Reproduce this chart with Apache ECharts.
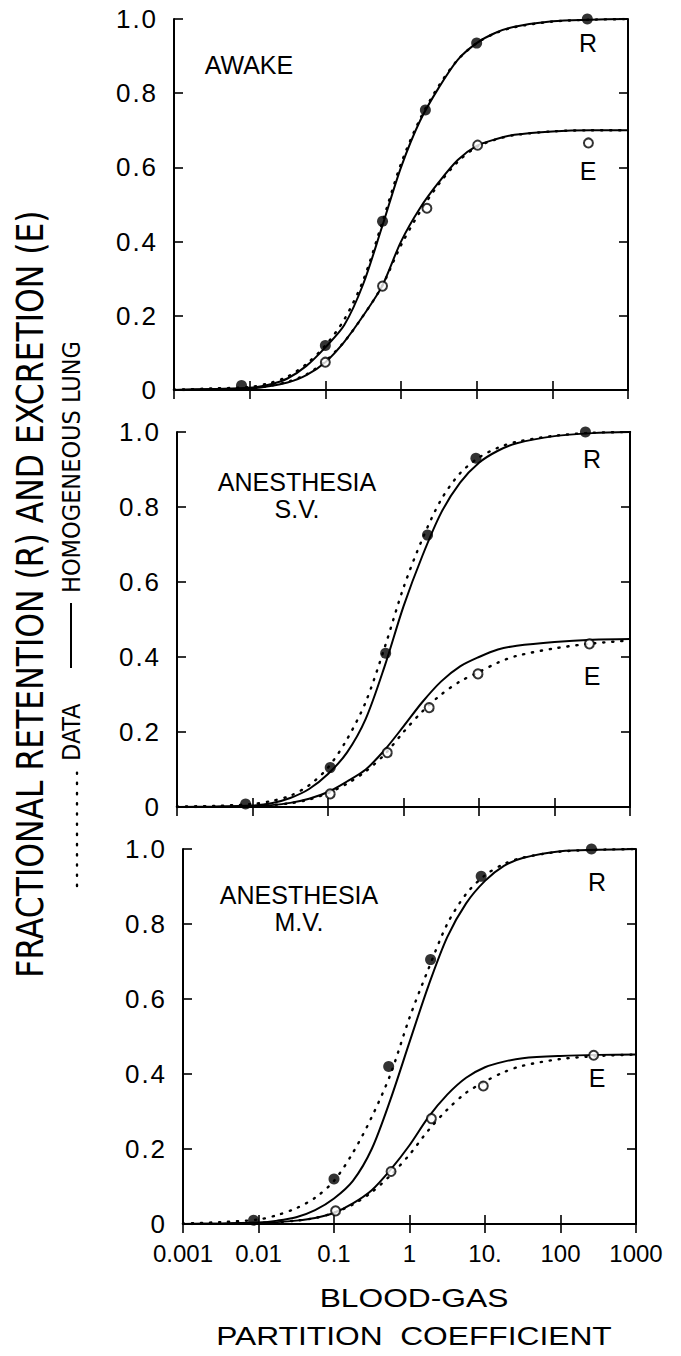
<!DOCTYPE html>
<html>
<head>
<meta charset="utf-8">
<script src="https://cdn.jsdelivr.net/npm/echarts@6/dist/echarts.min.js"></script>
<style>
  html, body { margin: 0; padding: 0; background: #fff; }
  #chart { width: 681px; height: 1356px; }
</style>
</head>
<body>
<div id="chart"></div>
<script>
// tick labels
var xTickLabels = ['0.001', '0.01', '0.1', '1', '10.', '100', '1000'];
var yTickLabels = ['0', '0.2', '0.4', '0.6', '0.8', '1.0'];
var panelNames = ['AWAKE', 'ANESTHESIA\nS.V.', 'ANESTHESIA\nM.V.'];

// partition coefficients where the curves were read (quarter decades in the middle)
var curveX = [0.001, 0.00316, 0.01, 0.0178, 0.0316, 0.0562, 0.1, 0.178, 0.316, 0.562,
              1, 1.78, 3.16, 5.62, 10, 17.8, 31.6, 100, 316, 1000];

// awake
var awakeRLine = [0, 0.003, 0.006, 0.014, 0.031, 0.065, 0.115, 0.175, 0.285, 0.44, 0.60, 0.725, 0.815, 0.89, 0.935, 0.963, 0.979, 0.994, 0.998, 1.0];
var awakeRDots = [0.001, 0.004, 0.008, 0.018, 0.036, 0.07, 0.12, 0.19, 0.295, 0.45, 0.61, 0.73, 0.82, 0.89, 0.935, 0.962, 0.978, 0.993, 0.998, 1.0];
var awakeELine = [0, 0.001, 0.004, 0.01, 0.02, 0.04, 0.075, 0.13, 0.2, 0.28, 0.40, 0.49, 0.56, 0.62, 0.658, 0.676, 0.688, 0.697, 0.70, 0.70];
var awakeEDots = [0, 0.001, 0.004, 0.011, 0.022, 0.042, 0.078, 0.13, 0.2, 0.28, 0.39, 0.48, 0.555, 0.615, 0.655, 0.675, 0.687, 0.697, 0.70, 0.70];
var awakeRPtX = [0.0078, 0.10, 0.57, 2.1, 10, 290];
var awakeRPtY = [0.012, 0.12, 0.455, 0.755, 0.935, 1.0];
var awakeEPtX = [0.10, 0.57, 2.2, 10.3, 300];
var awakeEPtY = [0.075, 0.28, 0.49, 0.66, 0.666];

// anesthesia, spontaneous ventilation
var svRLine = [0, 0.001, 0.004, 0.01, 0.024, 0.048, 0.088, 0.145, 0.235, 0.375, 0.535, 0.67, 0.785, 0.865, 0.918, 0.95, 0.97, 0.989, 0.997, 1.0];
var svRDots = [0.001, 0.003, 0.008, 0.016, 0.03, 0.058, 0.105, 0.18, 0.28, 0.425, 0.585, 0.715, 0.82, 0.89, 0.932, 0.958, 0.974, 0.99, 0.998, 1.0];
var svELine = [0, 0.0005, 0.002, 0.005, 0.011, 0.022, 0.04, 0.068, 0.1, 0.152, 0.215, 0.28, 0.335, 0.375, 0.4, 0.42, 0.43, 0.44, 0.446, 0.448];
var svEDots = [0, 0.0005, 0.002, 0.005, 0.01, 0.02, 0.037, 0.062, 0.095, 0.14, 0.2, 0.255, 0.3, 0.335, 0.36, 0.385, 0.403, 0.423, 0.436, 0.444];
var svRPtX = [0.0081, 0.107, 0.58, 2.08, 9.1, 257];
var svRPtY = [0.008, 0.105, 0.41, 0.725, 0.93, 1.0];
var svEPtX = [0.107, 0.61, 2.19, 9.7, 290];
var svEPtY = [0.035, 0.145, 0.265, 0.355, 0.435];

// anesthesia, mechanical ventilation
var mvRLine = [0, 0.001, 0.004, 0.009, 0.018, 0.037, 0.068, 0.115, 0.2, 0.333, 0.485, 0.635, 0.765, 0.855, 0.915, 0.955, 0.976, 0.994, 0.998, 1.0];
var mvRDots = [0.001, 0.005, 0.012, 0.024, 0.042, 0.07, 0.115, 0.19, 0.285, 0.40, 0.55, 0.68, 0.80, 0.88, 0.93, 0.96, 0.977, 0.993, 0.998, 1.0];
var mvELine = [0, 0.001, 0.003, 0.005, 0.009, 0.016, 0.03, 0.055, 0.09, 0.145, 0.21, 0.285, 0.345, 0.39, 0.418, 0.433, 0.442, 0.448, 0.451, 0.452];
var mvEDots = [0, 0.001, 0.003, 0.005, 0.009, 0.016, 0.03, 0.052, 0.085, 0.13, 0.185, 0.25, 0.305, 0.35, 0.38, 0.405, 0.422, 0.44, 0.448, 0.452];
var mvRPtX = [0.0086, 0.1, 0.53, 1.9, 8.9, 257];
var mvRPtY = [0.01, 0.12, 0.42, 0.705, 0.927, 1.0];
var mvEPtX = [0.105, 0.57, 1.95, 9.5, 275];
var mvEPtY = [0.035, 0.14, 0.281, 0.368, 0.45];

var FONT = '"Liberation Sans", Arial, sans-serif';
var NARROW = '"Liberation Sans Narrow", "DejaVu Sans Condensed", sans-serif';

var grids = [
  { left: 174, top: 19, width: 454, height: 371 },
  { left: 177, top: 432, width: 453, height: 375 },
  { left: 183, top: 849, width: 453, height: 375 }
];

function pairs(xs, ys) {
  var out = [];
  for (var i = 0; i < xs.length; i++) out.push([xs[i], ys[i]]);
  return out;
}

// y labels: the lettering leaves a wide gap round the decimal point
function yLabel(v) {
  var s = yTickLabels[Math.round(v / 0.2)];
  var parts = s.split('.');
  if (parts.length < 2) return '{d|' + s + '}';
  return '{d|' + parts[0] + '}{p|.}{d|' + parts[1] + '}';
}

var xAxes = [], yAxes = [], series = [];

for (var g = 0; g < 3; g++) {
  ['bottom', 'top'].forEach(function(pos) {
    xAxes.push({
      type: 'log', logBase: 10, gridIndex: g, position: pos,
      min: 0.001, max: 1000, splitNumber: 6,
      axisLine: { show: true, lineStyle: { color: '#000', width: 2 } },
      axisTick: { show: true, inside: true, length: 9, lineStyle: { color: '#000', width: 1.6 } },
      minorTick: { show: false },
      splitLine: { show: false },
      axisLabel: {
        show: pos === 'bottom' && g === 2,
        margin: 17,
        color: '#000',
        fontFamily: FONT,
        fontSize: 24,
        formatter: function(v) {
          return xTickLabels[Math.round(Math.log(v) / Math.LN10) + 3];
        }
      }
    });
  });
  ['left', 'right'].forEach(function(pos) {
    yAxes.push({
      type: 'value', gridIndex: g, position: pos,
      min: 0, max: 1, interval: 0.2,
      axisLine: { show: true, lineStyle: { color: '#000', width: 2 } },
      axisTick: { show: true, inside: true, length: 9, lineStyle: { color: '#000', width: 1.6 } },
      splitLine: { show: false },
      axisLabel: {
        show: pos === 'left',
        margin: 18,
        color: '#000',
        formatter: yLabel,
        rich: {
          d: { fontFamily: FONT, fontSize: 26, color: '#000' },
          p: { fontFamily: FONT, fontSize: 26, color: '#000', width: 11, align: 'center' }
        }
      }
    });
  });
}

function addPanel(g, rLine, rDots, eLine, eDots, rPX, rPY, ePX, ePY) {
  var xi = g * 2, yi = g * 2;
  function line(data, dotted) {
    series.push({
      type: 'line', xAxisIndex: xi, yAxisIndex: yi,
      data: pairs(curveX, data),
      smooth: 0.3, symbol: 'none', silent: true,
      lineStyle: dotted
        ? { color: '#000', width: 2.4, type: [1.2, 7.8], cap: 'round' }
        : { color: '#000', width: 2 },
      z: 2
    });
  }
  line(rLine, false);
  line(eLine, false);
  line(rDots, true);
  line(eDots, true);
  series.push({
    type: 'scatter', xAxisIndex: xi, yAxisIndex: yi,
    data: pairs(rPX, rPY), symbol: 'circle', symbolSize: 11,
    itemStyle: { color: '#000' }, z: 4
  });
  series.push({
    type: 'scatter', xAxisIndex: xi, yAxisIndex: yi,
    data: pairs(ePX, ePY), symbol: 'circle', symbolSize: 9,
    itemStyle: { color: '#fff', borderColor: '#000', borderWidth: 2 }, z: 4
  });
}

addPanel(0, awakeRLine, awakeRDots, awakeELine, awakeEDots, awakeRPtX, awakeRPtY, awakeEPtX, awakeEPtY);
addPanel(1, svRLine, svRDots, svELine, svEDots, svRPtX, svRPtY, svEPtX, svEPtY);
addPanel(2, mvRLine, mvRDots, mvELine, mvEDots, mvRPtX, mvRPtY, mvEPtX, mvEPtY);

function txt(text, x, y, size, extra) {
  var el = {
    type: 'text', x: x, y: y,
    style: {
      text: text, fill: '#000',
      font: size + 'px ' + FONT,
      textAlign: 'center', textVerticalAlign: 'middle', verticalAlign: 'middle',
      lineHeight: 27
    }
  };
  if (extra) for (var k in extra) el[k] = extra[k];
  return el;
}

var graphics = [
  txt(panelNames[0], 249, 65, 25),
  txt(panelNames[1], 297, 495, 25),
  txt(panelNames[2], 299, 908, 25),
  txt('R', 588, 43, 25), txt('E', 588, 171, 25),
  txt('R', 592, 459, 25), txt('E', 592, 676, 25),
  txt('R', 597, 882, 25), txt('E', 597, 1078, 25),
  txt('BLOOD-GAS', 414, 1298, 25, { scaleX: 1.27 }),
  txt('PARTITION  COEFFICIENT', 414, 1336, 25, { scaleX: 1.27 }),
  {
    type: 'text', x: 30, y: 594, rotation: Math.PI / 2, scaleX: 0.92,
    style: {
      text: 'FRACTIONAL RETENTION (R) AND EXCRETION (E)', fill: '#000',
      font: '38px ' + NARROW, textAlign: 'center', textVerticalAlign: 'middle', verticalAlign: 'middle'
    }
  },
  {
    type: 'group', x: 71, y: 611, rotation: Math.PI / 2,
    children: [
      { type: 'line', shape: { x1: -275, y1: 6, x2: -160, y2: 6 },
        style: { stroke: '#000', lineWidth: 2.4, lineDash: [1.2, 9], lineCap: 'round' } },
      { type: 'text', x: -150, y: 0,
        style: { text: 'DATA', fill: '#000', font: '25px ' + NARROW, textAlign: 'left', textVerticalAlign: 'middle', verticalAlign: 'middle' } },
      { type: 'line', shape: { x1: -57, y1: 0, x2: 8, y2: 0 },
        style: { stroke: '#000', lineWidth: 2 } },
      { type: 'text', x: 18, y: 0,
        style: { text: 'HOMOGENEOUS LUNG', fill: '#000', font: '25px ' + NARROW, textAlign: 'left', textVerticalAlign: 'middle', verticalAlign: 'middle' } }
    ]
  }
];

var chart = echarts.init(document.getElementById('chart'), null, { renderer: 'svg' });
chart.setOption({
  animation: false,
  backgroundColor: '#fff',
  grid: grids,
  xAxis: xAxes,
  yAxis: yAxes,
  series: series,
  graphic: graphics
});
</script>
</body>
</html>
